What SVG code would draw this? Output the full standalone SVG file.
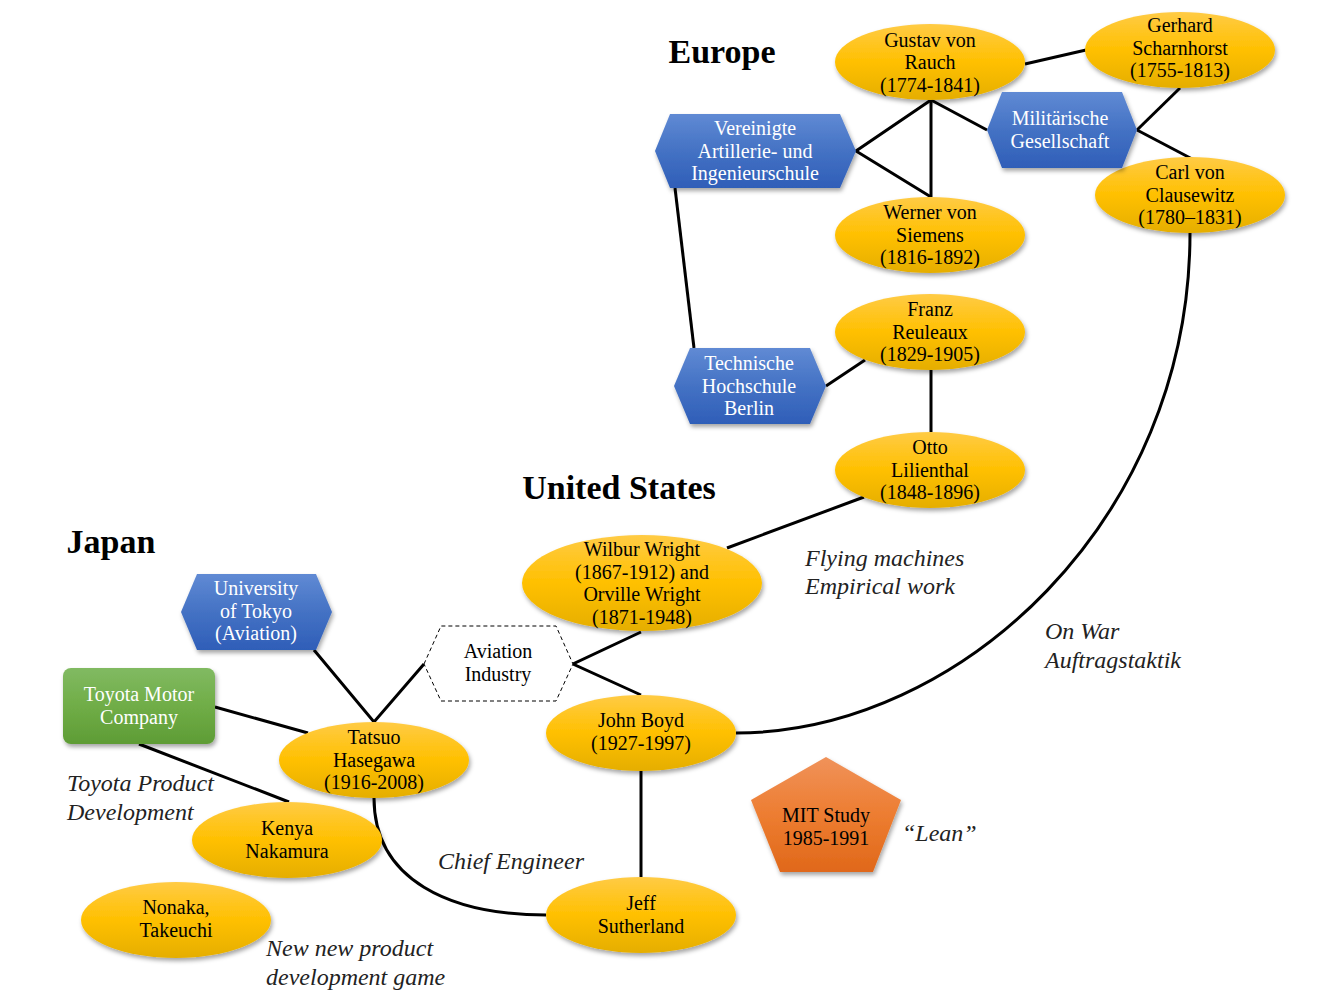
<svg xmlns="http://www.w3.org/2000/svg" width="1344" height="1008" viewBox="0 0 1344 1008">
<defs>
<linearGradient id="gold" x1="0" y1="0" x2="0" y2="1">
<stop offset="0" stop-color="#FFCB45"/><stop offset="0.5" stop-color="#FFC000"/><stop offset="1" stop-color="#E5AE00"/>
</linearGradient>
<linearGradient id="blue" x1="0" y1="0" x2="0" y2="1">
<stop offset="0" stop-color="#608AD4"/><stop offset="0.5" stop-color="#4472C4"/><stop offset="1" stop-color="#2F5EB8"/>
</linearGradient>
<linearGradient id="green" x1="0" y1="0" x2="0" y2="1">
<stop offset="0" stop-color="#81BA62"/><stop offset="0.5" stop-color="#70AD47"/><stop offset="1" stop-color="#5E9C35"/>
</linearGradient>
<linearGradient id="orange" x1="0" y1="0" x2="0" y2="1">
<stop offset="0" stop-color="#F0925A"/><stop offset="0.5" stop-color="#ED7D31"/><stop offset="1" stop-color="#E0681A"/>
</linearGradient>
<filter id="sh" x="-20%" y="-20%" width="140%" height="150%">
<feDropShadow dx="1.5" dy="3" stdDeviation="2" flood-color="#000" flood-opacity="0.35"/>
</filter>
</defs>
<style>
.ell{fill:url(#gold);filter:url(#sh)}
.hex{fill:url(#blue);filter:url(#sh)}
.t{font-family:"Liberation Serif","Times New Roman",serif;font-size:20px;text-anchor:middle;fill:#000}
.w{fill:#fff}
.h{font-family:"Liberation Serif","Times New Roman",serif;font-size:34px;font-weight:bold;text-anchor:middle;fill:#000}
.i{font-family:"Liberation Serif","Times New Roman",serif;font-size:24px;font-style:italic;fill:#222}
.c{fill:none;stroke:#000;stroke-width:3}
</style>
<rect width="1344" height="1008" fill="#fff"/>
<g id="connectors">
<line class="c" x1="1025" y1="64" x2="1086" y2="50"/>
<polyline class="c" points="931,100 856,151 931,197"/>
<line class="c" x1="931" y1="100" x2="931" y2="197"/>
<line class="c" x1="931" y1="100" x2="987" y2="130"/>
<line class="c" x1="1137" y1="130" x2="1180" y2="88"/>
<line class="c" x1="1137" y1="130" x2="1196" y2="161"/>
<line class="c" x1="675" y1="188" x2="694" y2="348"/>
<line class="c" x1="826" y1="386" x2="865" y2="360"/>
<line class="c" x1="931" y1="370" x2="931" y2="432"/>
<line class="c" x1="864" y1="497" x2="727" y2="548"/>
<polyline class="c" points="641,632 573,664 641,695"/>
<polyline class="c" points="314,650 374,722 424,664"/>
<line class="c" x1="215" y1="707" x2="308" y2="733"/>
<line class="c" x1="139" y1="744" x2="289" y2="802"/>
<path class="c" d="M374,798 C374,880 450,915 546,915"/>
<line class="c" x1="641" y1="771" x2="641" y2="877"/>
<path class="c" d="M1190,233 C1190,520 960,733 736,733"/>
</g>
<text class="h" x="722" y="63">Europe</text>
<text class="h" x="619" y="499">United States</text>
<text class="h" x="111" y="553">Japan</text>
<g id="gustav"><ellipse class="ell" cx="930" cy="62" rx="95" ry="38"/>
<text class="t" x="930" y="47">Gustav von</text><text class="t" x="930" y="69">Rauch</text><text class="t" x="930" y="92">(1774-1841)</text></g>
<g id="gerhard"><ellipse class="ell" cx="1180" cy="50" rx="95" ry="38"/>
<text class="t" x="1180" y="32">Gerhard</text><text class="t" x="1180" y="55">Scharnhorst</text><text class="t" x="1180" y="77">(1755-1813)</text></g>
<g id="werner"><ellipse class="ell" cx="930" cy="235" rx="95" ry="38"/>
<text class="t" x="930" y="219">Werner von</text><text class="t" x="930" y="242">Siemens</text><text class="t" x="930" y="264">(1816-1892)</text></g>
<g id="carl"><ellipse class="ell" cx="1190" cy="195" rx="95" ry="38"/>
<text class="t" x="1190" y="179">Carl von</text><text class="t" x="1190" y="202">Clausewitz</text><text class="t" x="1190" y="224">(1780–1831)</text></g>
<g id="franz"><ellipse class="ell" cx="930" cy="332" rx="95" ry="38"/>
<text class="t" x="930" y="316">Franz</text><text class="t" x="930" y="339">Reuleaux</text><text class="t" x="930" y="361">(1829-1905)</text></g>
<g id="otto"><ellipse class="ell" cx="930" cy="470" rx="95" ry="38"/>
<text class="t" x="930" y="454">Otto</text><text class="t" x="930" y="477">Lilienthal</text><text class="t" x="930" y="499">(1848-1896)</text></g>
<g id="wright"><ellipse class="ell" cx="642" cy="583" rx="120" ry="48"/>
<text class="t" x="642" y="556">Wilbur Wright</text><text class="t" x="642" y="579">(1867-1912) and</text><text class="t" x="642" y="601">Orville Wright</text><text class="t" x="642" y="624">(1871-1948)</text></g>
<g id="boyd"><ellipse class="ell" cx="641" cy="733" rx="95" ry="38"/>
<text class="t" x="641" y="727">John Boyd</text><text class="t" x="641" y="750">(1927-1997)</text></g>
<g id="jeff"><ellipse class="ell" cx="641" cy="915" rx="95" ry="38"/>
<text class="t" x="641" y="910">Jeff</text><text class="t" x="641" y="933">Sutherland</text></g>
<g id="tatsuo"><ellipse class="ell" cx="374" cy="760" rx="95" ry="38"/>
<text class="t" x="374" y="744">Tatsuo</text><text class="t" x="374" y="767">Hasegawa</text><text class="t" x="374" y="789">(1916-2008)</text></g>
<g id="kenya"><ellipse class="ell" cx="287" cy="840" rx="95" ry="38"/>
<text class="t" x="287" y="835">Kenya</text><text class="t" x="287" y="858">Nakamura</text></g>
<g id="nonaka"><ellipse class="ell" cx="176" cy="920" rx="95" ry="38"/>
<text class="t" x="176" y="914">Nonaka,</text><text class="t" x="176" y="937">Takeuchi</text></g>
<g id="vereinigte"><polygon class="hex" points="655,151 670,114 840,114 856,151 840,188 670,188"/>
<text class="t w" x="755" y="135">Vereinigte</text><text class="t w" x="755" y="158">Artillerie- und</text><text class="t w" x="755" y="180">Ingenieurschule</text></g>
<g id="militaerische"><polygon class="hex" points="987,130 1002,92 1122,92 1137,130 1122,168 1002,168"/>
<text class="t w" x="1060" y="125">Militärische</text><text class="t w" x="1060" y="148">Gesellschaft</text></g>
<g id="technische"><polygon class="hex" points="674,386 690,348 810,348 826,386 810,424 690,424"/>
<text class="t w" x="749" y="370">Technische</text><text class="t w" x="749" y="393">Hochschule</text><text class="t w" x="749" y="415">Berlin</text></g>
<g id="tokyo"><polygon class="hex" points="181,612 197,574 316,574 332,612 316,650 197,650"/>
<text class="t w" x="256" y="595">University</text><text class="t w" x="256" y="618">of Tokyo</text><text class="t w" x="256" y="640">(Aviation)</text></g>
<g id="aviation"><polygon points="424,664 441,626 556,626 573,664 556,701 441,701" fill="#fff" stroke="#000" stroke-width="1" stroke-dasharray="4,3"/>
<text class="t" x="498" y="658">Aviation</text><text class="t" x="498" y="681">Industry</text></g>
<g id="toyota"><rect x="63" y="668" width="152" height="76" rx="8" fill="url(#green)" filter="url(#sh)"/>
<text class="t w" x="139" y="701">Toyota Motor</text><text class="t w" x="139" y="724">Company</text></g>
<g id="mit"><polygon points="826,757 901,800 873,872 780,872 751,800" fill="url(#orange)" filter="url(#sh)"/>
<text class="t" x="826" y="822">MIT Study</text><text class="t" x="826" y="845">1985-1991</text></g>
<text class="i" x="805" y="566">Flying machines</text>
<text class="i" x="805" y="594">Empirical work</text>
<text class="i" x="1045" y="639">On War</text>
<text class="i" x="1045" y="668">Auftragstaktik</text>
<text class="i" x="67" y="791">Toyota Product</text>
<text class="i" x="67" y="820">Development</text>
<text class="i" x="438" y="869">Chief Engineer</text>
<text class="i" x="902" y="841">“Lean”</text>
<text class="i" x="266" y="956">New new product</text>
<text class="i" x="266" y="985">development game</text>
</svg>
